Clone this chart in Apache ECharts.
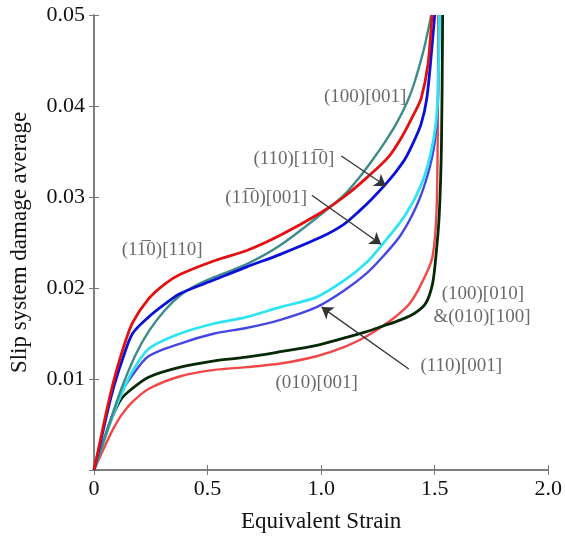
<!DOCTYPE html>
<html>
<head>
<meta charset="utf-8">
<script src="https://cdn.jsdelivr.net/npm/echarts@6/dist/echarts.min.js"></script>
<style>
  html, body { margin: 0; padding: 0; background: #fff; }
  #chart { width: 565px; height: 538px; }
</style>
</head>
<body>
<div id="chart"></div>
<script>
// axis ticks
var xTicks = [0, 0.5, 1.0, 1.5, 2.0];
var yTicks = [0, 0.01, 0.02, 0.03, 0.04, 0.05];

// (1-10)[110] red
var redX = [0, 0.03, 0.06, 0.09, 0.13, 0.17, 0.24, 0.31, 0.38, 0.53, 0.67, 0.82, 1.0, 1.1, 1.2, 1.3, 1.36, 1.41, 1.44, 1.47, 1.488];
var redY = [0, 0.0035, 0.007, 0.0101, 0.0135, 0.0162, 0.0188, 0.0204, 0.0215, 0.0230, 0.0241, 0.0258, 0.0283, 0.0300, 0.0321, 0.0345, 0.0368, 0.0392, 0.0408, 0.0445, 0.05];
// (110)[1-10] blue
var blueX = [0, 0.03, 0.06, 0.09, 0.13, 0.17, 0.24, 0.31, 0.38, 0.53, 0.67, 0.82, 1.0, 1.1, 1.17, 1.22, 1.28, 1.33, 1.37, 1.41, 1.44, 1.465, 1.487, 1.50];
var blueY = [0, 0.0032, 0.0065, 0.0094, 0.0125, 0.0150, 0.0168, 0.0182, 0.0194, 0.0209, 0.0223, 0.0237, 0.0256, 0.0270, 0.0285, 0.0297, 0.0313, 0.0328, 0.0342, 0.0362, 0.0380, 0.0408, 0.0462, 0.05];
// (100)[001] teal
var tealX = [0, 0.04, 0.08, 0.12, 0.18, 0.24, 0.31, 0.38, 0.45, 0.53, 0.67, 0.82, 1.0, 1.1, 1.17, 1.23, 1.28, 1.33, 1.38, 1.41, 1.45, 1.47, 1.485];
var tealY = [0, 0.003, 0.006, 0.0089, 0.0125, 0.0152, 0.0175, 0.0192, 0.0203, 0.0212, 0.0226, 0.0247, 0.0281, 0.0302, 0.0322, 0.0342, 0.0360, 0.0380, 0.0405, 0.0425, 0.0460, 0.0482, 0.05];
// (1-10)[001] cyan
var cyanX = [0, 0.04, 0.08, 0.12, 0.166, 0.24, 0.38, 0.53, 0.67, 0.82, 0.98, 1.1, 1.2, 1.27, 1.37, 1.44, 1.48, 1.505, 1.515, 1.52];
var cyanY = [0, 0.003, 0.0058, 0.0083, 0.0107, 0.0133, 0.0150, 0.0161, 0.0168, 0.0179, 0.0190, 0.0208, 0.0228, 0.0248, 0.0280, 0.0313, 0.0345, 0.0380, 0.0420, 0.05];
// (110)[001] medium blue
var mblueX = [0, 0.04, 0.08, 0.12, 0.166, 0.24, 0.38, 0.53, 0.67, 0.82, 0.98, 1.1, 1.2, 1.27, 1.35, 1.42, 1.47, 1.5, 1.515, 1.52];
var mblueY = [0, 0.0031, 0.006, 0.0085, 0.0103, 0.0125, 0.0139, 0.0150, 0.0156, 0.0165, 0.0179, 0.0197, 0.0216, 0.0234, 0.0258, 0.0290, 0.0325, 0.0360, 0.0410, 0.05];
// (100)[010] & (010)[100] black
var blackX = [0, 0.04, 0.08, 0.12, 0.166, 0.24, 0.38, 0.53, 0.67, 0.82, 0.98, 1.1, 1.2, 1.27, 1.35, 1.41, 1.46, 1.49, 1.505, 1.52, 1.53, 1.535];
var blackY = [0, 0.003, 0.0058, 0.0078, 0.0089, 0.0102, 0.0113, 0.0120, 0.0124, 0.0130, 0.0137, 0.0145, 0.0152, 0.0158, 0.0165, 0.0172, 0.0183, 0.0204, 0.0234, 0.0280, 0.0360, 0.05];
// (010)[001] light red
var lredX = [0, 0.04, 0.08, 0.12, 0.166, 0.24, 0.38, 0.53, 0.67, 0.82, 0.98, 1.1, 1.2, 1.27, 1.33, 1.39, 1.44, 1.49, 1.51, 1.515];
var lredY = [0, 0.0022, 0.0043, 0.0060, 0.0074, 0.0089, 0.0103, 0.0110, 0.0113, 0.0117, 0.0125, 0.0135, 0.0147, 0.0158, 0.0169, 0.0183, 0.0204, 0.0234, 0.0300, 0.05];

// annotation labels and arrows (data coordinates)
var labelText = ['(100)[001]', '(110)[11\u03050]', '(11\u03050)[001]', '(11\u03050)[110]', '(100)[010]', '&(010)[100]', '(110)[001]', '(010)[001]'];
var labelX = [1.194, 0.880, 0.758, 0.30, 1.712, 1.708, 1.617, 0.98];
var labelY = [0.0410, 0.0342, 0.0299, 0.0242, 0.0193, 0.0168, 0.0114, 0.0096];
var arrowFrom = [[1.089, 0.0345], [0.959, 0.0302], [1.386, 0.0111]];
var arrowTo = [[1.285, 0.0312], [1.264, 0.0248], [1.002, 0.0179]];

function pairs(xs, ys) {
    var out = [];
    for (var i = 0; i < xs.length; i++) out.push([xs[i], ys[i]]);
    return out;
}

var chart = echarts.init(document.getElementById('chart'));
var font = '"Liberation Serif", "DejaVu Serif", serif';

function curve(name, xs, ys, color, w) {
    return {
        name: name, type: 'line', xAxisIndex: 0, yAxisIndex: 0,
        data: pairs(xs, ys), showSymbol: false, smooth: 0.3,
        lineStyle: { color: color, width: w || 2.6 }, z: 3
    };
}

var labelData = [];
for (var i = 0; i < labelText.length; i++) {
    labelData.push({ value: [labelX[i], labelY[i]], name: labelText[i] });
}
var arrowData = [];
for (var j = 0; j < arrowFrom.length; j++) {
    arrowData.push({ coords: [arrowFrom[j], arrowTo[j]] });
}

var hiddenAxis = {
    show: true, axisLabel: { show: false },
    axisLine: { lineStyle: { color: '#777', width: 1.5 } },
    axisTick: { inside: true, length: 5, lineStyle: { color: '#777' } },
    splitLine: { show: false }
};

var option = {
    backgroundColor: '#fff',
    animation: false,
    grid: { left: 92, right: 14, top: 15, bottom: 64 },
    xAxis: [{
        type: 'value', min: 0, max: 2, interval: 0.5,
        name: 'Equivalent Strain', nameLocation: 'middle', nameGap: 40,
        nameTextStyle: { fontFamily: font, fontSize: 23, color: '#111' },
        axisLine: { lineStyle: { color: '#777', width: 1.5 } },
        axisTick: { inside: true, length: 5, lineStyle: { color: '#777' } },
        axisLabel: {
            fontFamily: font, fontSize: 22, color: '#111', margin: 8,
            formatter: function (v) { return v === 0 ? '0' : v.toFixed(1); }
        },
        splitLine: { show: false }
    }, Object.assign({ type: 'value', position: 'top', min: 0, max: 2, interval: 0.5 }, hiddenAxis)],
    yAxis: [{
        type: 'value', min: 0, max: 0.05, interval: 0.01,
        name: 'Slip system damage average', nameLocation: 'middle', nameGap: 63,
        nameTextStyle: { fontFamily: font, fontSize: 23, color: '#111' },
        axisLine: { lineStyle: { color: '#777', width: 1.5 } },
        axisTick: { inside: true, length: 5, lineStyle: { color: '#777' } },
        axisLabel: {
            fontFamily: font, fontSize: 22, color: '#111', margin: 9,
            formatter: function (v) { return v === 0 ? '' : v.toFixed(2); }
        },
        splitLine: { show: false }
    }, Object.assign({ type: 'value', position: 'right', min: 0, max: 0.05, interval: 0.01 }, hiddenAxis)],
    series: [
        curve('(010)[001]', lredX, lredY, '#f04848', 2.4),
        curve('(100)[010]&(010)[100]', blackX, blackY, '#062806', 2.8),
        curve('(110)[001]', mblueX, mblueY, '#4646e0', 2.4),
        curve('(1-10)[001]', cyanX, cyanY, '#2ee4f2', 2.8),
        curve('(100)[001]', tealX, tealY, '#3e8c8a', 2.4),
        curve('(110)[1-10]', blueX, blueY, '#0a10d8', 2.8),
        curve('(1-10)[110]', redX, redY, '#e21010', 2.8),
        {
            type: 'lines', coordinateSystem: 'cartesian2d', xAxisIndex: 0, yAxisIndex: 0,
            data: arrowData, symbol: ['none', 'arrow'], symbolSize: 11,
            lineStyle: { color: '#333', width: 1.3, opacity: 1 }, z: 5
        },
        {
            type: 'scatter', xAxisIndex: 0, yAxisIndex: 0, data: labelData,
            symbolSize: 0, silent: true, z: 6,
            label: {
                show: true, position: 'inside', formatter: '{b}',
                fontFamily: font, fontSize: 19, color: '#444'
            }
        }
    ]
};
chart.setOption(option);
</script>
</body>
</html>
